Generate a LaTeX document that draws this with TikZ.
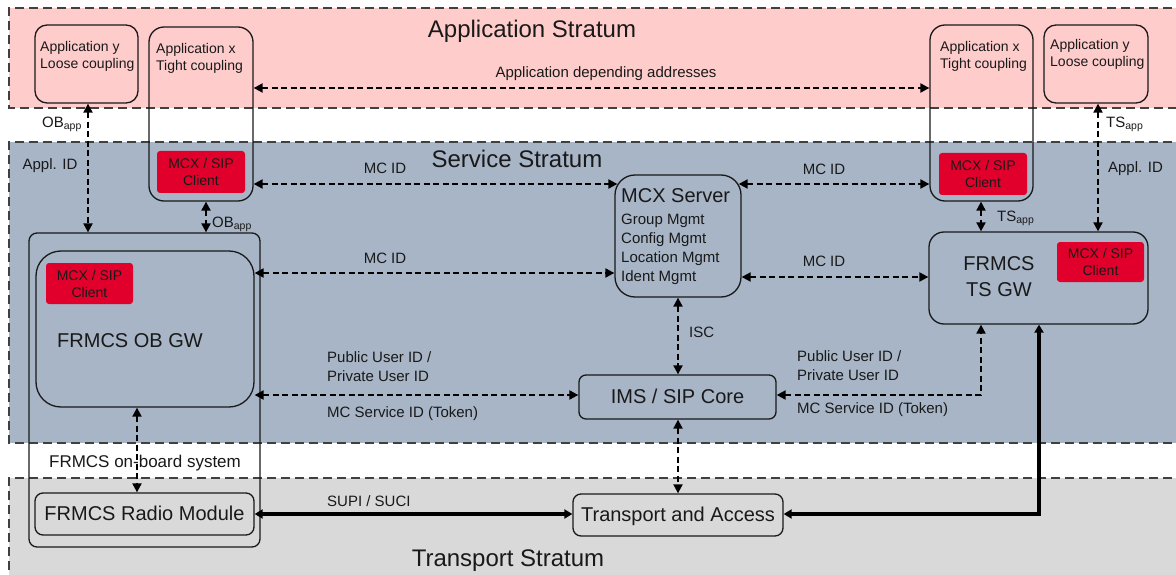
\documentclass[tikz,border=0pt]{standalone}
\usepackage{fontspec}
\setmainfont{Liberation Sans}
\usetikzlibrary{arrows.meta,calc}
\definecolor{appbg}{RGB}{255,204,204}
\definecolor{svcbg}{RGB}{167,181,198}
\definecolor{trbg}{RGB}{217,217,217}
\definecolor{mcxred}{RGB}{224,0,43}
\definecolor{ink}{RGB}{25,25,25}
\definecolor{strline}{RGB}{64,64,64}
\begin{document}
\begin{tikzpicture}[x=1pt,y=-1pt,
  txt/.style={inner sep=0pt, text=ink},
  f24/.style={font=\fontsize{24}{29}\selectfont, text height=18pt, text depth=3.6pt},
  f20/.style={font=\fontsize{20}{24}\selectfont, text height=15pt, text depth=3pt},
  f17/.style={font=\fontsize{17}{20}\selectfont, text height=12.75pt, text depth=2.55pt},
  f15/.style={font=\fontsize{15}{18}\selectfont, text height=11.25pt, text depth=2.25pt},
  f14/.style={font=\fontsize{14}{17}\selectfont, text height=10.5pt, text depth=2.1pt},
  strat/.style={draw=strline, line width=1.2pt, dash pattern=on 9pt off 5pt},
  box/.style={draw=ink, line width=1.3pt, inner sep=0pt, rectangle},
  client/.style={fill=mcxred, rounded corners=3pt, inner sep=0pt, align=center, text=ink, font=\fontsize{14}{17}\selectfont},
  dar/.style={draw=black, line width=2pt, dash pattern=on 6pt off 3.5pt, {Triangle[length=9pt,width=9pt]}-{Triangle[length=9pt,width=9pt]}},
  thk/.style={draw=black, line width=3.5pt, {Triangle[length=8pt,width=9pt]}-{Triangle[length=8pt,width=9pt]}}
]
\useasboundingbox (0,0) rectangle (1176,575);
\clip (0,0) rectangle (1176,575);
\fill[white] (0,0) rectangle (1176,575);

% strata
\fill[appbg] (9,8) rectangle (1200,108);
\draw[strat] (1200,8) -- (9,8) -- (9,108) -- (1200,108);
\fill[svcbg] (9,142) rectangle (1200,443);
\draw[strat] (1200,142) -- (9,142) -- (9,443) -- (1200,443);
\fill[trbg] (9,478) rectangle (1200,600);
\draw[strat] (1200,478) -- (9,478) -- (9,600);

\node[txt,f24] (tApp) at (532,30) {Application Stratum};
\node[txt,f24] (tSvc) at (517,160) {Service Stratum};
\node[txt,f24] (tTr) at (508,559) {Transport Stratum};

% boxes
\node[box, rounded corners=12pt, minimum width=103pt, minimum height=78pt] (appyL) at (86.5,64) {};
\node[box, rounded corners=15pt, minimum width=104pt, minimum height=174pt] (appxL) at (201,114) {};
\node[client, minimum width=88pt, minimum height=42pt] (clL) at (201,172) {MCX / SIP\\Client};
\node[box, rounded corners=15pt, minimum width=103pt, minimum height=176pt] (appxR) at (981.5,113) {};
\node[client, minimum width=88pt, minimum height=42pt] (clR) at (983,174) {MCX / SIP\\Client};
\node[box, rounded corners=12pt, minimum width=104pt, minimum height=78pt] (appyR) at (1096,64) {};

\node[box, rounded corners=8pt, minimum width=231pt, minimum height=314pt] (obsys) at (144.5,390) {};
\node[box, rounded corners=25pt, minimum width=218pt, minimum height=156pt] (obgw) at (145,329) {};
\node[client, minimum width=87pt, minimum height=41pt] (clOB) at (89.5,283.5) {MCX / SIP\\Client};
\node[box, rounded corners=8pt, minimum width=219pt, minimum height=42pt, txt, f20] (radio) at (144.5,514) {FRMCS Radio Module};

\node[box, rounded corners=20pt, minimum width=126pt, minimum height=122pt] (mcx) at (678,236) {};
\node[box, rounded corners=7pt, minimum width=197pt, minimum height=44pt, txt, f20] (ims) at (677.5,397) {IMS / SIP Core};
\node[box, rounded corners=8pt, minimum width=210pt, minimum height=42pt, txt, f20] (ta) at (678,515) {Transport and Access};
\node[box, rounded corners=15pt, minimum width=219pt, minimum height=92pt] (tsgw) at (1038.5,278) {};
\node[client, minimum width=87pt, minimum height=40pt] (clTS) at (1100.5,262) {MCX / SIP\\Client};

% box texts
\node[txt,f14,anchor=west] (ayL1) at (40,47) {Application y};
\node[txt,f14,anchor=west] (ayL2) at (40,64) {Loose coupling};
\node[txt,f14,anchor=west] (axL1) at (156,49) {Application x};
\node[txt,f14,anchor=west] (axL2) at (156,66) {Tight coupling};
\node[txt,f14,anchor=west] (axR1) at (940,47) {Application x};
\node[txt,f14,anchor=west] (axR2) at (940,64) {Tight coupling};
\node[txt,f14,anchor=west] (ayR1) at (1050,45) {Application y};
\node[txt,f14,anchor=west] (ayR2) at (1050,62) {Loose coupling};
\node[txt,f20] (obgwT) at (130,341) {FRMCS OB GW};
\node[txt,f20] (tsgwT1) at (999,264) {FRMCS};
\node[txt,f20] (tsgwT2) at (999,290) {TS GW};
\node[txt,f20,anchor=west] (mcxT) at (621,197) {MCX Server};
\node[txt,f15,anchor=west] (mcx1) at (621,220) {Group Mgmt};
\node[txt,f15,anchor=west] (mcx2) at (621,239) {Config Mgmt};
\node[txt,f15,anchor=west] (mcx3) at (621,258) {Location Mgmt};
\node[txt,f15,anchor=west] (mcx4) at (621,277) {Ident Mgmt};

% helper coordinates
\coordinate (yAD) at (0,88);
\coordinate (yMC1) at (0,184);
\coordinate (yMC2) at (0,273);
\coordinate (yMC3) at (0,277);
\coordinate (yPU) at (0,395);
\coordinate (yTh) at (0,514);
\coordinate (xOB1) at (88,0);
\coordinate (xOB2) at (206,0);
\coordinate (xTS1) at (981,0);
\coordinate (xTS2) at (1098,0);
\coordinate (xRM) at (137,0);
\coordinate (xISC) at (678,0);
\coordinate (xTh) at (1039,0);

% dashed connectors
\draw[dar] (appxL.east |- yAD) -- (appxR.west |- yAD);
\draw[dar] (appxL.east |- yMC1) -- ([xshift=3pt]mcx.west |- yMC1);
\draw[dar] ([xshift=-3pt]mcx.east |- yMC1) -- (appxR.west |- yMC1);
\draw[dar] (obgw.east |- yMC2) -- (mcx.west |- yMC2);
\draw[dar] (mcx.east |- yMC3) -- (tsgw.west |- yMC3);
\draw[dar] (obgw.east |- yPU) -- (ims.west |- yPU);
\draw[dar] (ims.east |- yPU) -| (tsgw.south -| xTS1);
\draw[dar] (mcx.south -| xISC) -- (ims.north -| xISC);
\draw[dar] (ims.south -| xISC) -- (ta.north -| xISC);
\draw[dar] (obgw.south -| xRM) -- (radio.north -| xRM);
\draw[dar] (appyL.south -| xOB1) -- (obsys.north -| xOB1);
\draw[dar] (appxL.south -| xOB2) -- (obsys.north -| xOB2);
\draw[dar] (appxR.south -| xTS1) -- (tsgw.north -| xTS1);
\draw[dar] (appyR.south -| xTS2) -- (tsgw.north -| xTS2);

% thick connectors
\draw[thk] (radio.east |- yTh) -- (ta.west |- yTh);
\draw[thk] (ta.east |- yTh) -| (tsgw.south -| xTh);

% labels
\node[txt,f15] (lAD) at (606,73) {Application depending addresses};
\node[txt,f15,anchor=west] (lOB1) at (42,123) {OB\textsubscript{app}};
\node[txt,f15,anchor=west] (lOB2) at (212,223) {OB\textsubscript{app}};
\node[txt,f15,anchor=west] (lTS1) at (1106,123) {TS\textsubscript{app}};
\node[txt,f15,anchor=west] (lTS2) at (997,217) {TS\textsubscript{app}};
\node[txt,f15] (lAI1) at (50,165) {Appl. ID};
\node[txt,f15] (lAI2) at (1135.5,168) {Appl. ID};
\node[txt,f15] (lMC1) at (385,169) {MC ID};
\node[txt,f15] (lMC2) at (385,259) {MC ID};
\node[txt,f15] (lMC3) at (824,170) {MC ID};
\node[txt,f15] (lMC4) at (824,262) {MC ID};
\node[txt,f15,anchor=west] (lISC) at (689,333) {ISC};
\node[txt,f15,anchor=west] (lPUL1) at (327,358) {Public User ID /};
\node[txt,f15,anchor=west] (lPUL2) at (327,377) {Private User ID};
\node[txt,f15,anchor=west] (lPUL3) at (327,413) {MC Service ID (Token)};
\node[txt,f15,anchor=west] (lPUR1) at (797,357) {Public User ID /};
\node[txt,f15,anchor=west] (lPUR2) at (797,376) {Private User ID};
\node[txt,f15,anchor=west] (lPUR3) at (797,409) {MC Service ID (Token)};
\node[txt,f15,anchor=west] (lSUPI) at (327,502) {SUPI / SUCI};
\node[txt,f17] (lOBS) at (145,462) {FRMCS on-board system};
\end{tikzpicture}
\end{document}
